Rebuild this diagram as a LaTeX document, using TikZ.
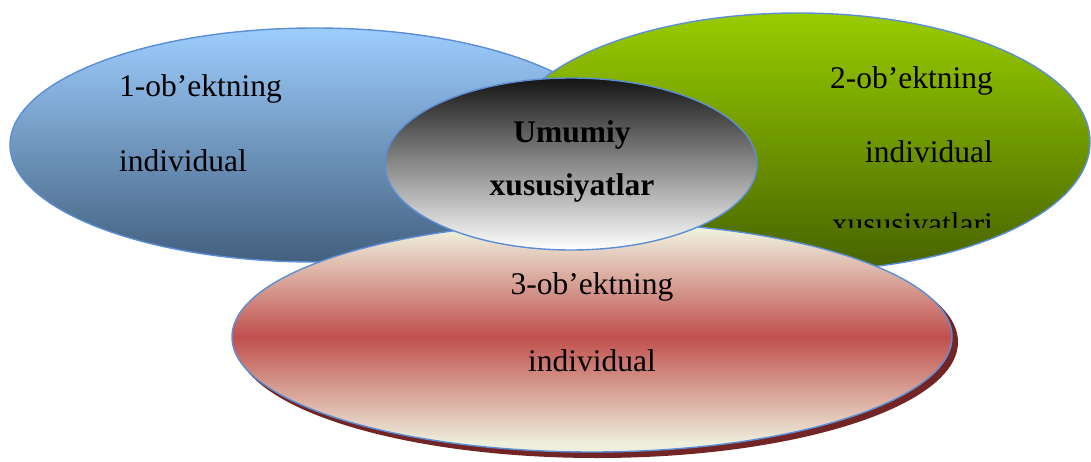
\documentclass[tikz,border=0pt]{standalone}
\usepackage{fontspec}
\setmainfont{Liberation Serif}
\usetikzlibrary{shapes.geometric}
\definecolor{edgeblue}{HTML}{5B8ED6}
\definecolor{blueTop}{HTML}{9DCDFD}
\definecolor{blueBot}{HTML}{43607F}
\definecolor{greenTop}{HTML}{99CC00}
\definecolor{greenBot}{HTML}{466200}
\definecolor{redMid}{HTML}{C0504D}
\definecolor{cream}{HTML}{EEEEDC}
\definecolor{shadowred}{HTML}{732424}
\pgfdeclareverticalshading{redband}{100bp}{color(0bp)=(cream); color(27bp)=(cream); color(50bp)=(redMid); color(73bp)=(cream); color(100bp)=(cream)}
\tikzset{
  oval/.style={ellipse, draw=edgeblue, line width=1.4pt, inner sep=0pt},
  lbl/.style={inner sep=0pt, font=\fontsize{31.5}{36}\selectfont},
  blbl/.style={lbl, font=\fontsize{31.5}{36}\selectfont\bfseries}
}
\begin{document}
\begin{tikzpicture}[x=1pt,y=-1pt]
\useasboundingbox (0,0) rectangle (1091,462);
% ellipse 1 (blue)
\node[oval, minimum width=610pt, minimum height=234pt, top color=blueTop, bottom color=blueBot] (e1) at (315,145) {};
\node[lbl, anchor=base west] (t1a) at (119,97) {1-ob’ektning};
\node[lbl, anchor=base west] (t1b) at (119,172) {individual};
% ellipse 2 (green)
\node[oval, minimum width=584pt, minimum height=258pt, top color=greenTop, bottom color=greenBot] (e2) at (798,142) {};
\node[lbl, anchor=base east] (t2a) at (993,89) {2-ob’ektning};
\node[lbl, anchor=base east] (t2b) at (993,163) {individual};
\begin{scope}
\clip (700,200) rectangle (1091,228);
\node[lbl, anchor=base east] (t2c) at (993,235) {xususiyatlari};
\end{scope}
% ellipse 3 (red) with shadow
\node[ellipse, inner sep=0pt, minimum width=722pt, minimum height=232pt, fill=shadowred] (e3s) at (597,342) {};
\node[oval, minimum width=720pt, minimum height=230pt, shading=redband] (e3) at (592,337) {};
\node[lbl, anchor=base] (t3a) at (592,294) {3-ob’ektning};
\node[lbl, anchor=base] (t3b) at (592,371) {individual};
% center ellipse
\node[oval, minimum width=372pt, minimum height=172pt, top color=black!92, bottom color=white] (e0) at (571,164) {};
\node[blbl, anchor=base] (t0a) at (572,143) {Umumiy};
\node[blbl, anchor=base] (t0b) at (572,196) {xususiyatlar};
\end{tikzpicture}
\end{document}
